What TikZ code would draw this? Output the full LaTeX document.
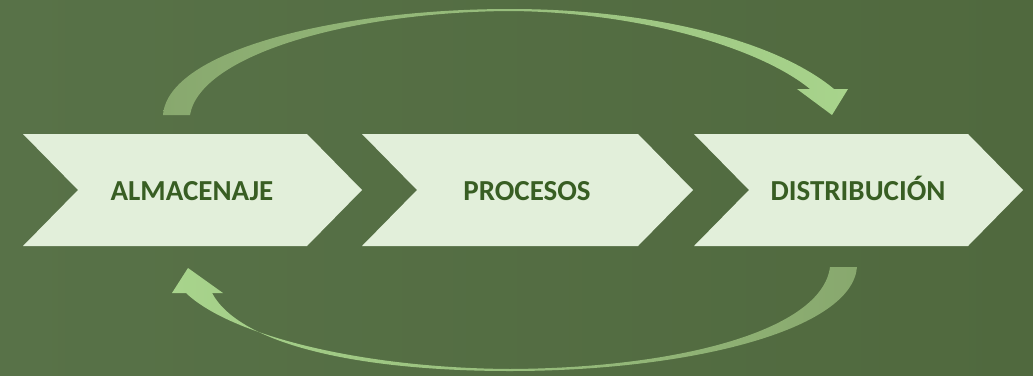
\documentclass[tikz,border=0pt]{standalone}
\usepackage{fontspec}
\setmainfont{Carlito}
\definecolor{bgA}{RGB}{88,114,72}
\definecolor{bgB}{RGB}{80,105,62}
\definecolor{chev}{RGB}{226,239,218}
\definecolor{txt}{RGB}{56,94,35}
\definecolor{arrdim}{RGB}{136,168,110}
\definecolor{arrbright}{RGB}{168,212,140}
\begin{document}
\begin{tikzpicture}[x=1pt,y=-1pt,
  chevron/.style={fill=chev},
  steplabel/.style={font=\bfseries\fontsize{29}{34}\selectfont, text=txt, anchor=base, inner sep=0pt}]
\shade[left color=bgA, right color=bgB] (0,0) rectangle (1033,375);
\useasboundingbox (0,0) rectangle (1033,375);
% chevrons
\fill[chevron] (23,134) -- (307,134) -- (362,190) -- (307,246) -- (23,246) -- (78,190) -- cycle;
\fill[chevron] (362,134) -- (638,134) -- (693,190) -- (638,246) -- (362,246) -- (417,190) -- cycle;
\fill[chevron] (694,134) -- (968,134) -- (1023,190) -- (968,246) -- (694,246) -- (749,190) -- cycle;
\node[steplabel] (alm) at (192,200) {ALMACENAJE};
\node[steplabel] (pro) at (527,200) {PROCESOS};
\node[steplabel] (dis) at (858,200) {DISTRIBUCIÓN};
% upper curved arrow
\shade[left color=arrdim, right color=arrbright]
  (163,115) .. controls (168,50) and (340,9) .. (510,9)
  .. controls (650,9) and (775,40) .. (834,89)
  -- (848,89) -- (832,115) -- (797,89) -- (810,89)
  .. controls (760,48) and (640,12) .. (510,11)
  .. controls (350,12) and (200,55) .. (190,115) -- cycle;
% lower curved arrow
\shade[left color=arrbright, right color=arrdim]
  (857,267) .. controls (852,330) and (690,371) .. (510,371)
  .. controls (360,371) and (240,345) .. (212,293)
  -- (223,293) -- (188,268) -- (172,293) -- (186,293)
  .. controls (230,335) and (360,368) .. (510,369)
  .. controls (680,368) and (822,330) .. (830,267) -- cycle;
\end{tikzpicture}
\end{document}
